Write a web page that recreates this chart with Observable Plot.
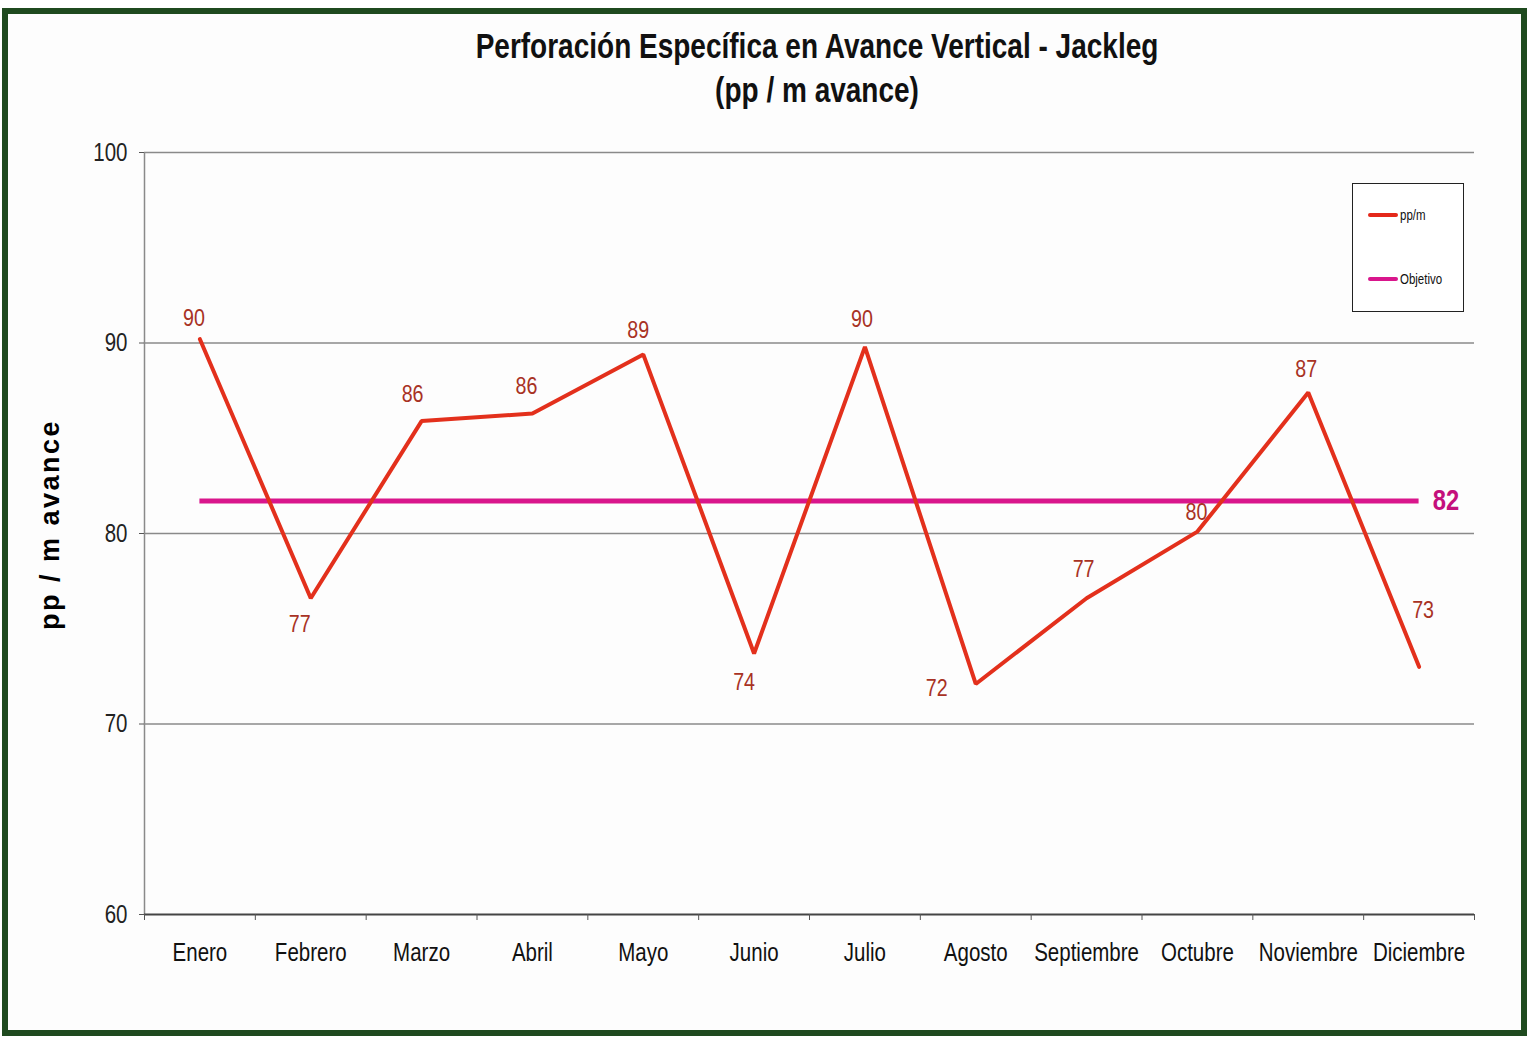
<!DOCTYPE html>
<html>
<head>
<meta charset="utf-8">
<script src="https://cdn.jsdelivr.net/npm/d3@7"></script>
<script src="https://cdn.jsdelivr.net/npm/@observablehq/plot@0.6"></script>
<style>
  html, body { margin: 0; padding: 0; background: #ffffff; }
  #wrap { position: relative; width: 1533px; height: 1038px; overflow: hidden; font-family: "Liberation Sans", Arial, sans-serif; }
  #frame { position: absolute; left: 2px; top: 8px; width: 1513px; height: 1016px; border: 6px solid #1f4a1f; background: #fdfdfd; }
  #chart { position: absolute; left: 0; top: 0; }
  .title { position: absolute; left: 817px; transform: translateX(-50%) scaleX(0.8); transform-origin: center; white-space: nowrap; font-weight: bold; font-size: 35px; line-height: 35px; color: #111; }
  #legend { position: absolute; left: 1352px; top: 183px; width: 110px; height: 127px; border: 1.5px solid #222; background: #fff; }
  .lg-item { position: absolute; left: 15px; display: flex; align-items: center; font-size: 14px; color: #111; }
  .lg-swatch { width: 30px; height: 4px; border-radius: 2px; margin-right: 2px; }
  .lg-text { display: inline-block; transform: scaleX(0.82); transform-origin: left center; }
</style>
</head>
<body>
<div id="wrap">
  <div id="frame"></div>
  <div class="title" style="top:28px;">Perforación Específica en Avance Vertical - Jackleg</div>
  <div class="title" style="top:72px;">(pp / m avance)</div>
  <div id="chart"></div>
  <div id="legend">
    <div class="lg-item" style="top:23px;"><span class="lg-swatch" style="background:#e4281a"></span><span class="lg-text">pp/m</span></div>
    <div class="lg-item" style="top:87px;"><span class="lg-swatch" style="background:#d9168c"></span><span class="lg-text">Objetivo</span></div>
  </div>
</div>
<script>
// Meses del año
const months = ["Enero", "Febrero", "Marzo", "Abril", "Mayo", "Junio", "Julio", "Agosto", "Septiembre", "Octubre", "Noviembre", "Diciembre"];
// Perforación específica (pp / m avance) por mes
const ppm = [90.2, 76.6, 85.9, 86.3, 89.4, 73.7, 89.8, 72.1, 76.6, 80.1, 87.4, 73.0];
// Objetivo anual
const objetivo = 81.7;
// Marcas del eje vertical
const yTicks = [60, 70, 80, 90, 100];

// Desplazamiento de cada etiqueta respecto a su punto [dx, dy]
const labelOffsets = [[-6, -21], [-11, 26], [-9, -27], [-6, -27], [-5, -24], [-10, 29], [-3, -27], [-39, 4], [-3, -29], [-1, -19], [-2, -23], [4, -57]];

const data = months.map((m, i) => ({ mes: m, pos: i + 0.5, valor: ppm[i] }));
const fmt = d3.format(".0f");
const yLabel = "pp / m avance";

const plot = Plot.plot({
  width: 1533,
  height: 1038,
  marginLeft: 144,
  marginRight: 59,
  marginTop: 152,
  marginBottom: 124,
  style: { background: "transparent", fontFamily: "'Liberation Sans', Arial, sans-serif", fontSize: "24px", color: "#222" },
  x: { type: "linear", domain: [0, months.length], axis: null },
  y: { domain: [60, 100], axis: null },
  marks: [
    Plot.gridY([70, 80, 90, 100], { stroke: "#8a8a8a", strokeOpacity: 1, strokeWidth: 1.5 }),
    Plot.ruleX([0], { stroke: "#8a8a8a", strokeWidth: 1.5 }),
    Plot.ruleY([60], { stroke: "#444", strokeWidth: 2 }),
    Plot.axisY(yTicks, { label: null, tickSize: 5, tickPadding: 12, stroke: "#555", fontSize: 25, fill: "#222" }),
    Plot.axisX(d3.range(0, months.length + 1), { label: null, tickSize: 6, stroke: "#555", tickFormat: () => "" }),
    Plot.axisX(data.map(d => d.pos), { label: null, tickSize: 0, tickPadding: 29, fontSize: 25, fill: "#111", tickFormat: p => months[Math.floor(p)] }),
    Plot.ruleY([objetivo], { x1: data[0].pos, x2: data[data.length - 1].pos, stroke: "#d9168c", strokeWidth: 5 }),
    Plot.text([objetivo], { x: data[data.length - 1].pos, y: d => d, text: d => fmt(d), dx: 27, fill: "#c4107c", fontWeight: "bold", fontSize: 29, textAnchor: "middle" }),
    Plot.line(data, { x: "pos", y: "valor", stroke: "#e3301c", strokeWidth: 4, strokeLinejoin: "miter" }),
    ...data.map((d, i) => Plot.text([d], { x: "pos", y: "valor", text: d => fmt(d.valor), dx: labelOffsets[i][0], dy: labelOffsets[i][1], fill: "#a83224", fontSize: 24 })),
    Plot.text([yLabel], { frameAnchor: "left", text: d => d, rotate: -90, textAnchor: "middle", dx: -94, dy: -9, fontFamily: "'Liberation Sans', Arial, sans-serif", fontWeight: "bold", fontSize: 27, fill: "#000" })
  ]
});

// Texto estrecho: comprime horizontalmente cada etiqueta alrededor de su ancla
plot.querySelectorAll("text").forEach(el => {
  if (el.textContent === yLabel) { el.setAttribute("letter-spacing", "2.5"); return; }
  const t = el.getAttribute("transform");
  if (t) {
    el.setAttribute("transform", t + " scale(0.82,1)");
  } else {
    const x = +el.getAttribute("x") || 0, y = +el.getAttribute("y") || 0;
    el.removeAttribute("x"); el.removeAttribute("y");
    el.setAttribute("transform", `translate(${x},${y}) scale(0.82,1)`);
  }
});
document.getElementById("chart").appendChild(plot);
</script>
</body>
</html>
